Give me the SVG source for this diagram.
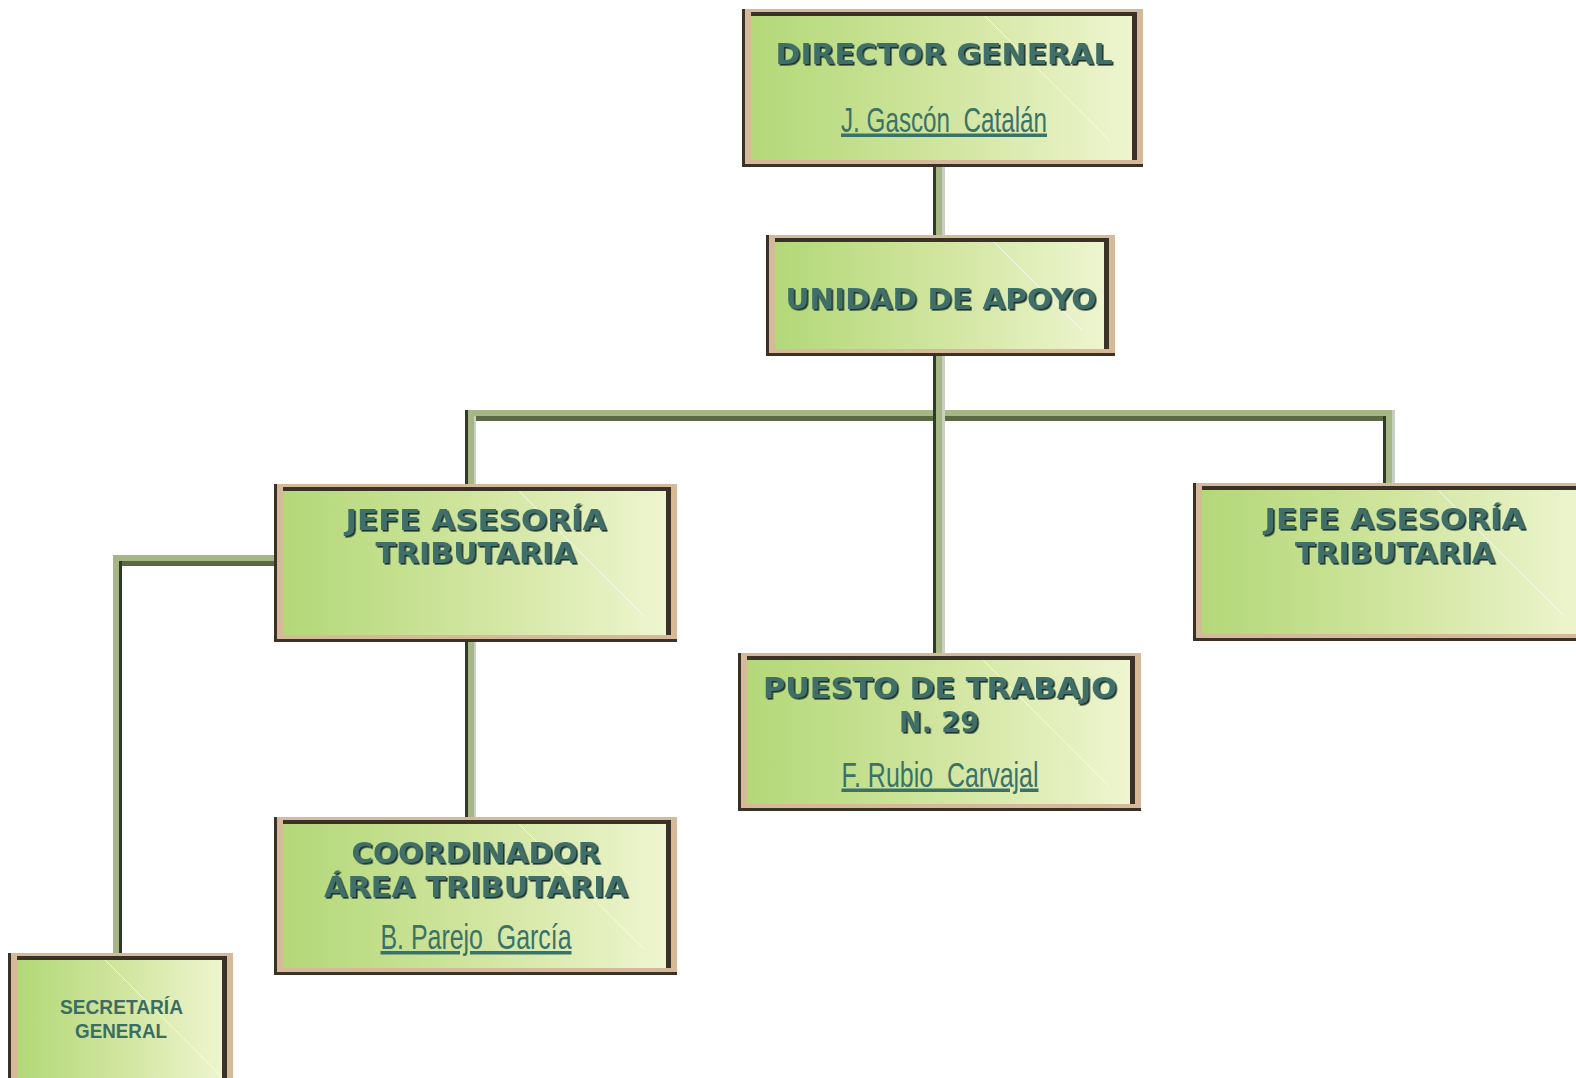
<svg xmlns="http://www.w3.org/2000/svg" width="1576" height="1078" viewBox="0 0 1576 1078">
<defs>
<linearGradient id="fillg" x1="0" y1="0" x2="1" y2="0">
<stop offset="0" stop-color="#b3d878"/>
<stop offset="0.5" stop-color="#d0e59e"/>
<stop offset="1" stop-color="#eef5cf"/>
</linearGradient>
<filter id="sh" x="-5%" y="-20%" width="110%" height="140%">
<feDropShadow dx="1.6" dy="1.6" stdDeviation="0.2" flood-color="#1d302c" flood-opacity="1"/>
</filter>
</defs>
<style>
.tan{fill:#d5b998}
.dk{fill:#3a3127}
.fl{fill:url(#fillg)}
.hl{stroke:#ffffff;stroke-opacity:0.65;stroke-width:1}
.hd{font-family:"DejaVu Sans","Liberation Sans",sans-serif;font-weight:bold;font-size:29px;fill:#3f6e67;text-anchor:middle;filter:url(#sh)}
.nm{font-family:"Liberation Sans","DejaVu Sans",sans-serif;font-size:35px;fill:#3b7268;text-anchor:middle;text-decoration:underline}
.sc{font-family:"Liberation Sans","DejaVu Sans",sans-serif;font-weight:bold;font-size:20px;fill:#3a6e64;text-anchor:middle}
.cg{fill:#a6b786}
.cd{fill:#2f3a2b}
.cl{fill:#c9cfc2}
.cb{fill:#5b6a43}
</style>

<g id="connectors">
<rect class="cg" x="465" y="410" width="930" height="6"/>
<rect class="cb" x="465" y="416" width="930" height="5"/>
<rect class="cg" x="933" y="160" width="12" height="80"/>
<rect class="cd" x="933" y="160" width="3" height="80"/>
<rect class="cl" x="942" y="160" width="3" height="80"/>
<rect class="cg" x="933" y="350" width="12" height="306"/>
<rect class="cd" x="933" y="350" width="3" height="306"/>
<rect class="cl" x="942" y="350" width="3" height="306"/>
<rect class="cg" x="465" y="410" width="11" height="77"/>
<rect class="cd" x="465" y="410" width="3" height="77"/>
<rect class="cl" x="474" y="416" width="2" height="71"/>
<rect class="cg" x="1383" y="410" width="12" height="76"/>
<rect class="cd" x="1383" y="416" width="3" height="70"/>
<rect class="cl" x="1392" y="410" width="3" height="76"/>
<rect class="cg" x="465" y="636" width="11" height="184"/>
<rect class="cd" x="465" y="636" width="3" height="184"/>
<rect class="cl" x="474" y="636" width="2" height="184"/>
<rect class="cg" x="113" y="555" width="164" height="6"/>
<rect class="cb" x="119" y="561" width="158" height="5"/>
<rect class="cg" x="113" y="555" width="9" height="401"/>
<rect class="cd" x="119" y="561" width="3" height="395"/>
</g>

<g id="director">
<rect class="tan" x="742" y="9" width="401" height="158"/>
<path class="dk" d="M742 9h3V164H1143V167H742Z"/>
<rect class="dk" x="751" y="12" width="386" height="148"/>
<rect class="fl" x="751" y="16" width="381" height="144"/>
<line class="hl" x1="985" y1="16" x2="1110" y2="141"/>
<text class="hd" x="944" y="64" textLength="337" lengthAdjust="spacingAndGlyphs">DIRECTOR GENERAL</text>
<text class="nm" x="944" y="131.5" textLength="206" lengthAdjust="spacingAndGlyphs" xml:space="preserve">J. Gascón  Catalán</text>
</g>

<g id="unidad">
<rect class="tan" x="766" y="235" width="349" height="121"/>
<path class="dk" d="M766 235h3V353H1115V356H766Z"/>
<rect class="dk" x="775" y="238" width="334" height="111"/>
<rect class="fl" x="775" y="242" width="329" height="107"/>
<line class="hl" x1="994" y1="242" x2="1082" y2="330"/>
<text class="hd" x="941" y="309" textLength="311" lengthAdjust="spacingAndGlyphs">UNIDAD DE APOYO</text>
</g>

<g id="jefe-left">
<rect class="tan" x="274" y="484" width="403" height="158"/>
<path class="dk" d="M274 484h3V639H677V642H274Z"/>
<rect class="dk" x="283" y="487" width="388" height="148"/>
<rect class="fl" x="283" y="491" width="383" height="144"/>
<line class="hl" x1="519" y1="491" x2="644" y2="616"/>
<text class="hd" x="476" y="530" textLength="261" lengthAdjust="spacingAndGlyphs">JEFE ASESORÍA</text>
<text class="hd" x="476" y="563" textLength="201" lengthAdjust="spacingAndGlyphs">TRIBUTARIA</text>
</g>

<g id="jefe-right">
<rect class="tan" x="1193" y="483" width="403" height="158"/>
<path class="dk" d="M1193 483h3V638H1596V641H1193Z"/>
<rect class="dk" x="1202" y="486" width="388" height="148"/>
<rect class="fl" x="1202" y="490" width="383" height="144"/>
<line class="hl" x1="1438" y1="490" x2="1563" y2="615"/>
<text class="hd" x="1395" y="529" textLength="261" lengthAdjust="spacingAndGlyphs">JEFE ASESORÍA</text>
<text class="hd" x="1395" y="563" textLength="200" lengthAdjust="spacingAndGlyphs">TRIBUTARIA</text>
</g>

<g id="puesto">
<rect class="tan" x="738" y="653" width="403" height="158"/>
<path class="dk" d="M738 653h3V808H1141V811H738Z"/>
<rect class="dk" x="747" y="656" width="388" height="148"/>
<rect class="fl" x="747" y="660" width="383" height="144"/>
<line class="hl" x1="983" y1="660" x2="1108" y2="785"/>
<text class="hd" x="940" y="698" textLength="354" lengthAdjust="spacingAndGlyphs">PUESTO DE TRABAJO</text>
<text class="hd" x="939" y="731.5" textLength="80" lengthAdjust="spacingAndGlyphs">N. 29</text>
<text class="nm" x="940" y="786.5" textLength="197" lengthAdjust="spacingAndGlyphs" xml:space="preserve">F. Rubio  Carvajal</text>
</g>

<g id="coordinador">
<rect class="tan" x="274" y="817" width="403" height="158"/>
<path class="dk" d="M274 817h3V972H677V975H274Z"/>
<rect class="dk" x="283" y="820" width="388" height="148"/>
<rect class="fl" x="283" y="824" width="383" height="144"/>
<line class="hl" x1="519" y1="824" x2="644" y2="949"/>
<text class="hd" x="476" y="863" textLength="249" lengthAdjust="spacingAndGlyphs">COORDINADOR</text>
<text class="hd" x="476" y="896.5" textLength="304" lengthAdjust="spacingAndGlyphs">ÁREA TRIBUTARIA</text>
<text class="nm" x="476" y="949" textLength="191" lengthAdjust="spacingAndGlyphs" xml:space="preserve">B. Parejo  García</text>
</g>

<g id="secretaria">
<rect class="tan" x="8" y="953" width="225" height="158"/>
<rect class="dk" x="8" y="953" width="3" height="158"/>
<rect class="dk" x="17" y="956" width="210" height="155"/>
<rect class="fl" x="17" y="960" width="205" height="151"/>
<line class="hl" x1="105" y1="960" x2="222" y2="1077"/>
<text class="sc" x="121.5" y="1014" textLength="123" lengthAdjust="spacingAndGlyphs">SECRETARÍA</text>
<text class="sc" x="121" y="1037.5" textLength="92" lengthAdjust="spacingAndGlyphs">GENERAL</text>
</g>
</svg>
